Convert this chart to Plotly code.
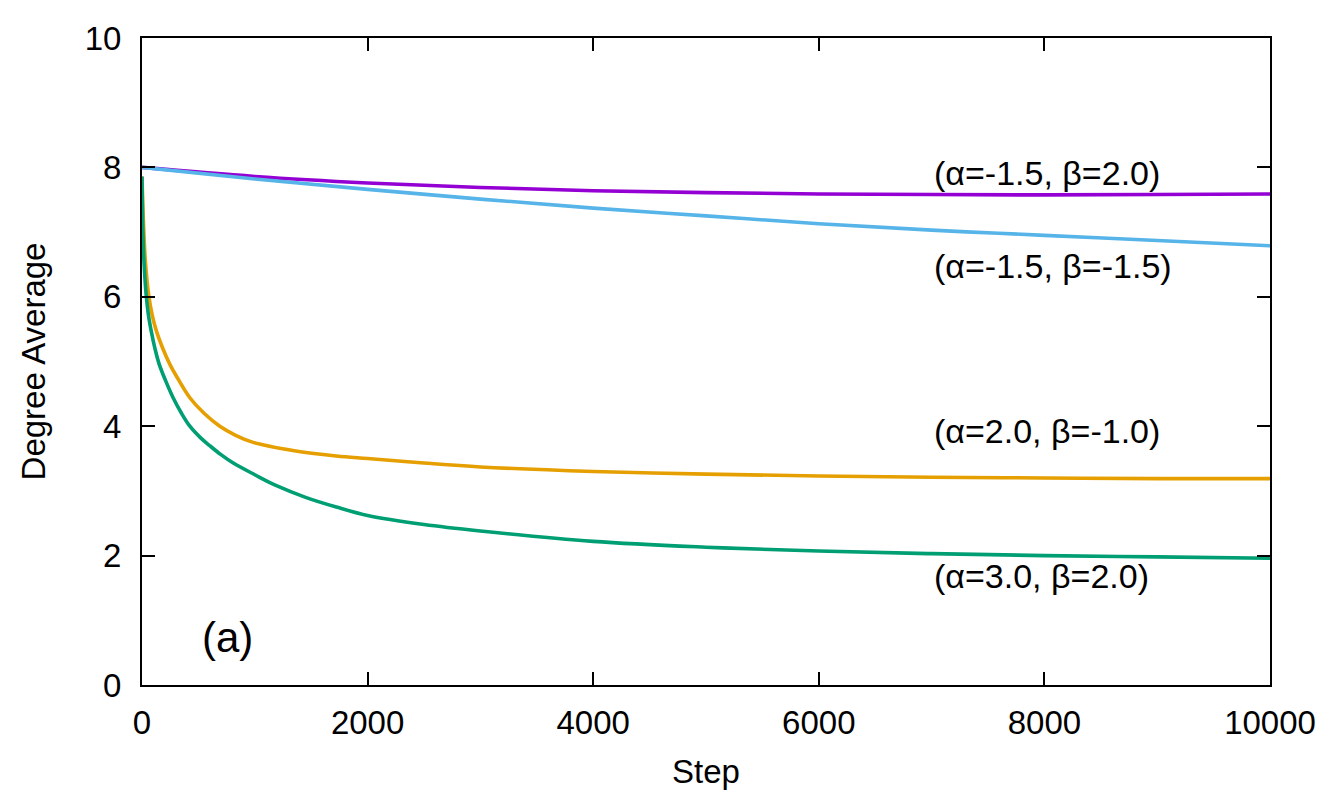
import plotly.graph_objects as go

# steps and degree averages
steps_purple = [0, 1000, 2000, 3000, 4000, 5000, 6000, 7000, 8000, 9000, 10000]
deg_purple = [8.0, 7.86, 7.76, 7.69, 7.64, 7.61, 7.59, 7.58, 7.575, 7.58, 7.59]

steps_blue = [0, 1000, 2000, 3000, 4000, 5000, 6000, 7000, 8000, 9000, 10000]
deg_blue = [8.0, 7.82, 7.66, 7.51, 7.37, 7.25, 7.13, 7.03, 6.95, 6.87, 6.79]

steps_orange = [0, 15, 30, 59, 90, 128, 180, 246, 330, 424, 550, 690, 830, 985, 1350,
                1723, 2000, 2500, 3000, 4000, 5000, 6000, 7000, 8000, 9000, 10000]
deg_orange = [7.86, 7.06, 6.55, 6.03, 5.72, 5.47, 5.22, 4.96, 4.70, 4.44, 4.20, 4.0, 3.86, 3.75, 3.62,
              3.54, 3.50, 3.43, 3.37, 3.30, 3.26, 3.23, 3.21, 3.20, 3.19, 3.19]

steps_green = [0, 8, 19, 37, 57, 84, 115, 152, 210, 276, 350, 424, 520, 600, 700, 809, 1000,
               1192, 1450, 1723, 2000, 2500, 3000, 4000, 5000, 6000, 7000, 8000, 9000, 10000]
deg_green = [7.86, 7.0, 6.5, 6.03, 5.72, 5.45, 5.2, 4.96, 4.70, 4.44, 4.2, 4.0, 3.82, 3.70, 3.56, 3.43, 3.25,
             3.08, 2.90, 2.75, 2.62, 2.48, 2.38, 2.22, 2.13, 2.07, 2.03, 2.00, 1.98, 1.96]

labels = ["(α=-1.5, β=2.0)", "(α=-1.5, β=-1.5)", "(α=2.0, β=-1.0)", "(α=3.0, β=2.0)"]
label_y = [7.92, 6.47, 3.93, 1.69]

FONT = "Liberation Sans, Arial, Helvetica, sans-serif"
colors = ["#9400d3", "#56b4e9", "#e69f00", "#009e73"]

fig = go.Figure()
series = [(steps_purple, deg_purple), (steps_blue, deg_blue),
          (steps_orange, deg_orange), (steps_green, deg_green)]
for (xs, ys), c, name in zip(series, colors, labels):
    fig.add_trace(go.Scatter(x=xs, y=ys, mode="lines", name=name,
                             line=dict(color=c, width=3.6, shape="spline", smoothing=1.0)))

for txt, yv in zip(labels, label_y):
    fig.add_annotation(x=7000, y=yv, text=txt, showarrow=False,
                       xanchor="left", yanchor="middle",
                       font=dict(size=34, color="black", family=FONT))
fig.add_annotation(x=518, y=0.74, text="(a)", showarrow=False,
                   xanchor="left", yanchor="middle",
                   font=dict(size=42, color="black", family=FONT))

axis_style = dict(showline=True, linecolor="black", linewidth=2, mirror="allticks",
                  ticks="inside", ticklen=13, tickwidth=2, tickcolor="black",
                  showgrid=False, zeroline=False,
                  tickfont=dict(size=33, color="black", family=FONT))

fig.update_xaxes(range=[0, 10000], tickvals=[0, 2000, 4000, 6000, 8000, 10000], tickformat="d",
                 title=dict(text="Step", font=dict(size=33, color="black", family=FONT), standoff=20),
                 ticklabelstandoff=7, **axis_style)
fig.update_yaxes(range=[0, 10], tickvals=[0, 2, 4, 6, 8, 10],
                 title=dict(text="Degree Average", font=dict(size=33, color="black", family=FONT), standoff=29),
                 ticklabelstandoff=12, **axis_style)

# page body adds an 8px offset, so the figure is 8px smaller and margins shifted
fig.update_layout(width=1321, height=789, showlegend=False,
                  plot_bgcolor="white", paper_bgcolor="white",
                  margin=dict(l=134, r=59, t=28, b=112))

fig.write_html("out.html")
